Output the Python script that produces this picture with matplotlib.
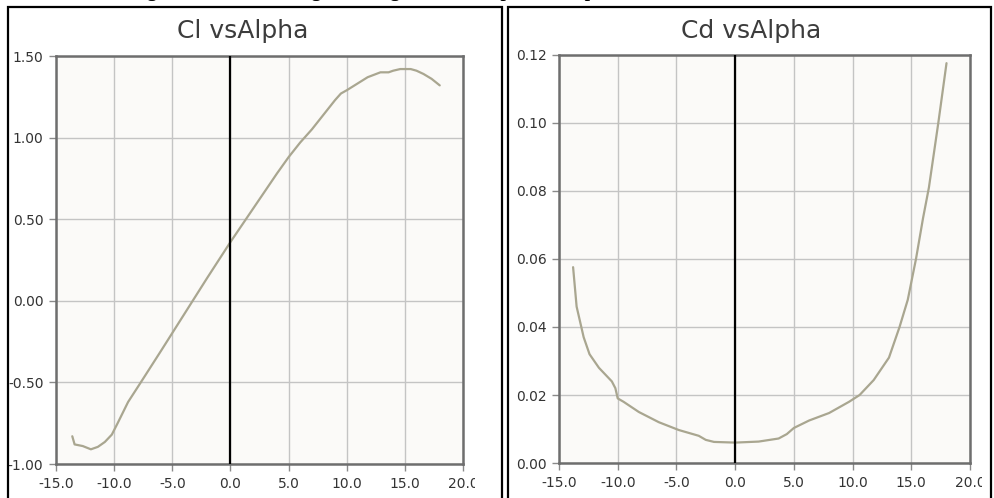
import numpy as np
import matplotlib
matplotlib.use('Agg')
import matplotlib.pyplot as plt
from matplotlib.patches import Rectangle
from matplotlib.transforms import Bbox, TransformedBbox

# lift curve
cl_alpha = [-13.6, -13.4, -12.7, -12.0, -11.4, -10.8, -10.2, -9.7, -8.8, -7.8,
            -6.0, -4.0, -2.0, 0.0, 2.0, 4.0, 5.0, 6.0, 7.0, 8.0, 9.0, 9.5,
            10.0, 10.9, 11.8, 12.9, 13.6, 14.0, 14.6, 15.5, 16.0, 16.6, 17.3, 18.0]
cl_values = [-0.83, -0.88, -0.89, -0.91, -0.895, -0.865, -0.82, -0.75, -0.62, -0.51,
             -0.31, -0.085, 0.14, 0.36, 0.57, 0.78, 0.88, 0.97, 1.05, 1.14, 1.23, 1.27,
             1.29, 1.33, 1.37, 1.40, 1.40, 1.41, 1.42, 1.42, 1.41, 1.39, 1.36, 1.32]

# drag curve
cd_alpha = [-13.8, -13.5, -12.9, -12.4, -11.6, -10.5, -10.2, -10.0, -9.5, -8.2,
            -6.5, -4.8, -3.1, -2.5, -1.8, 0.0, 2.0, 3.7, 4.4, 5.0, 6.3, 8.0,
            9.7, 10.6, 11.8, 13.1, 14.0, 14.7, 15.4, 16.0, 16.5, 17.3, 18.0]
cd_values = [0.0576, 0.046, 0.037, 0.032, 0.028, 0.024, 0.022, 0.019, 0.018, 0.015,
             0.012, 0.0097, 0.008, 0.0068, 0.0062, 0.006, 0.0063, 0.0072, 0.0085, 0.0103, 0.0125, 0.0147,
             0.018, 0.020, 0.0244, 0.031, 0.040, 0.048, 0.060, 0.072, 0.081, 0.100, 0.1176]

x_ticks = [-15.0, -10.0, -5.0, 0.0, 5.0, 10.0, 15.0, 20.0]
cl_ticks = [-1.0, -0.5, 0.0, 0.5, 1.0, 1.5]
cd_ticks = [0.0, 0.02, 0.04, 0.06, 0.08, 0.10, 0.12]

W, H = 995, 498
fig = plt.figure(figsize=(W / 100, H / 100), dpi=100)
fig.patch.set_facecolor('white')


def px(x0, y0, x1, y1):
    # pixel box -> figure fraction [left, bottom, width, height]
    return [x0 / W, 1 - y1 / H, (x1 - x0) / W, (y1 - y0) / H]


def panel(rect, xs, ys, yticks, ylim, title, title_x, clip_x):
    ax = fig.add_axes(rect)
    ax.set_facecolor('#fbfaf8')
    ax.plot(xs, ys, color='#a9a690', lw=1.6, solid_capstyle='round')
    ax.axvline(0, color='black', lw=1.6, zorder=3)
    ax.set_xlim(-15, 20)
    ax.set_ylim(*ylim)
    ax.set_xticks(x_ticks)
    ax.set_xticklabels(['%.1f' % t for t in x_ticks])
    ax.set_yticks(yticks)
    ax.set_yticklabels(['%.2f' % t for t in yticks])
    ax.grid(True, color='#c4c4c4', lw=1.0)
    ax.set_axisbelow(True)
    for s in ax.spines.values():
        s.set_color('#6e6e6e')
        s.set_linewidth(1.8)
    ax.tick_params(direction='out', length=5, width=1, color='#8a8a8a',
                   labelsize=10, labelcolor='#333333', pad=4)
    # last x label is cut off in the original
    lab = ax.get_xticklabels()[-1]
    lab.set_clip_on(True)
    lab.set_clip_box(TransformedBbox(Bbox([[0, 0], [clip_x / W, 1]]), fig.transFigure))
    fig.text(title_x / W, 1 - 38 / H, title, fontsize=18, color='#3c3c3c',
             ha='center', va='baseline')
    return ax


# outer frames
fig.patches.append(Rectangle((8 / W, -0.05), (502 - 8) / W, 1.05 - 7 / H,
                             transform=fig.transFigure, fill=False,
                             edgecolor='black', lw=1.6))
fig.patches.append(Rectangle((508 / W, -0.05), (991 - 508) / W, 1.05 - 7 / H,
                             transform=fig.transFigure, fill=False,
                             edgecolor='black', lw=1.6))

panel(px(56, 56, 463, 464), cl_alpha, cl_values, cl_ticks, (-1.0, 1.5),
      'Cl vsAlpha', 243, 475)
panel(px(559, 55, 970, 463), cd_alpha, cd_values, cd_ticks, (0.0, 0.12),
      'Cd vsAlpha', 751, 982)

# caption above, cut off by the top edge in the original (only descenders show)
fig.text(130 / W, 1 + 2.5 / H, 'Figure 4: Cl and Cd against Angle of Attack plots for optimum airfoil',
         fontsize=14, fontweight='bold', family='Liberation Serif',
         ha='left', va='baseline')

fig.savefig('out.png', dpi=100)
